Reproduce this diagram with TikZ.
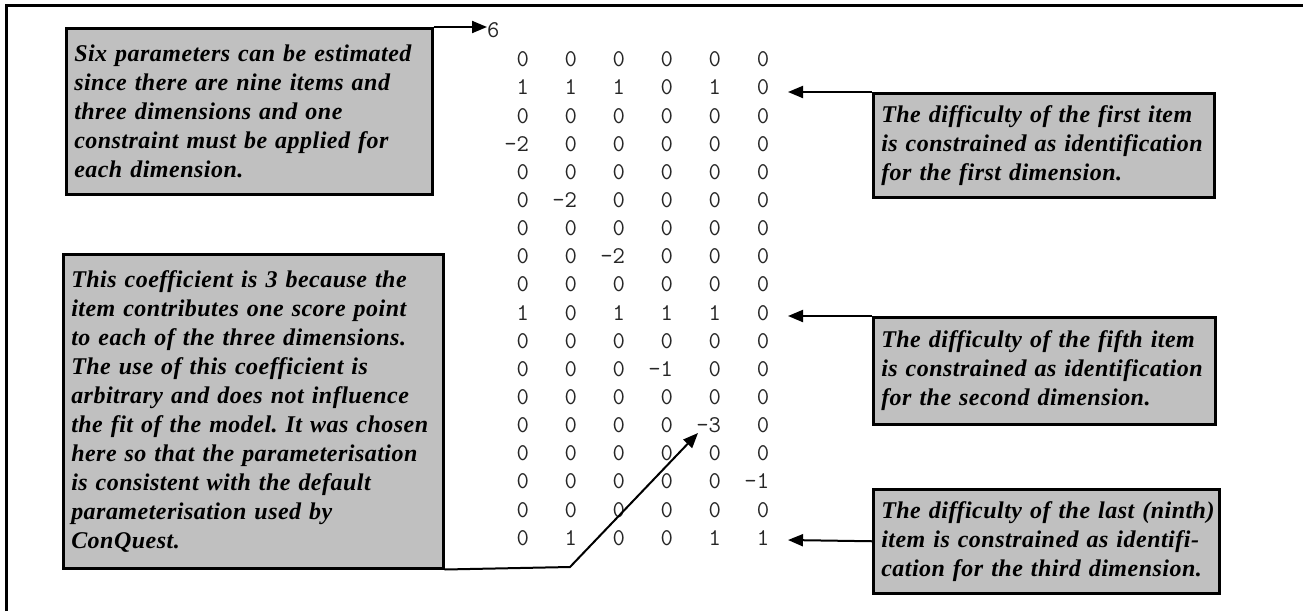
\documentclass[tikz,border=0pt]{standalone}
\usepackage{fontspec}
\setmainfont{Liberation Serif}
\newfontfamily\notefont[LetterSpace=2]{Liberation Serif}
\usetikzlibrary{arrows.meta}
\definecolor{boxgrey}{HTML}{C0C0C0}
\newcommand\nline[1]{\mbox{#1}}
\begin{document}
\begin{tikzpicture}[x=1pt,y=-1pt,
  note/.style={draw=black,line width=2.5pt,fill=boxgrey,anchor=north west,
    inner xsep=8pt,inner ysep=0pt,align=left,
    font=\fontsize{24}{29}\selectfont\notefont\bfseries\itshape\frenchspacing},
  num/.style={anchor=base east,inner sep=0pt,text=black!85,
    font=\fontsize{24}{24}\selectfont\ttfamily},
  conn/.style={line width=2pt,draw=black},
  arr/.style={conn,-{Triangle[length=15pt,width=12pt]}}]
\useasboundingbox (0,0) rectangle (1303,611);
% frame
\draw[line width=3pt] (6.5,611) -- (6.5,5.5) -- (1303,5.5);
% notes
\node[note,minimum width=366pt,minimum height=166pt,text width=350pt] (b1) at (65,27)
 {\nline{Six parameters can be estimated}\\\nline{since there are nine items and}\\\nline{three dimensions and one}\\\nline{constraint must be applied for}\\\nline{each dimension.}};
\node[note,minimum width=380pt,minimum height=314pt,text width=364pt] (b2) at (62,253)
 {\nline{This coefficient is 3 because the}\\\nline{item contributes one score point}\\\nline{to each of the three dimensions.}\\\nline{The use of this coefficient is}\\\nline{arbitrary and does not influence}\\\nline{the fit of the model. It was chosen}\\\nline{here so that the parameterisation}\\\nline{is consistent with the default}\\\nline{parameterisation used by}\\\nline{ConQuest.}};
\node[note,minimum width=341pt,minimum height=104pt,text width=325pt] (b3) at (872,92)
 {\nline{The difficulty of the first item}\\\nline{is constrained as identification}\\\nline{for the first dimension.}};
\node[note,minimum width=342pt,minimum height=107pt,text width=326pt] (b4) at (872,316)
 {\nline{The difficulty of the fifth item}\\\nline{is constrained as identification}\\\nline{for the second dimension.}};
\node[note,minimum width=346pt,minimum height=104pt,text width=330pt] (b5) at (872,488)
 {\nline{The difficulty of the last (ninth)}\\\nline{item is constrained as identifi-}\\\nline{cation for the third dimension.}};
% numbers
\node[num,anchor=base west] (six) at (487,37) {6};
\foreach \rowvals [count=\r] in {
 {0,0,0,0,0,0},{1,1,1,0,1,0},{0,0,0,0,0,0},{-2,0,0,0,0,0},{0,0,0,0,0,0},
 {0,-2,0,0,0,0},{0,0,0,0,0,0},{0,0,-2,0,0,0},{0,0,0,0,0,0},{1,0,1,1,1,0},
 {0,0,0,0,0,0},{0,0,0,-1,0,0},{0,0,0,0,0,0},{0,0,0,0,-3,0},{0,0,0,0,0,0},
 {0,0,0,0,0,-1},{0,0,0,0,0,0},{0,1,0,0,1,1}} {
  \foreach \v [count=\c] in \rowvals {
    \node[num] (m-\r-\c) at ({523+(\c-1)*48+6.3},{66.7+(\r-1)*28.15}) {\v};
  }
}
% connectors
\coordinate (t3) at (788,92);
\coordinate (t4) at (788,316);
\coordinate (t5) at (788,540);
\coordinate (bend) at (570,567);
\coordinate (t2) at (698,433);
\draw[arr] (b1.north east) -- (b1.north east -| six.west);
\draw[arr] (b3.north west) -- (t3);
\draw[arr] (b4.north west) -- (t4);
\draw[arr] (b5.west) -- (t5);
\draw[arr] (b2.south east) -- (bend) -- (t2);
\end{tikzpicture}
\end{document}
